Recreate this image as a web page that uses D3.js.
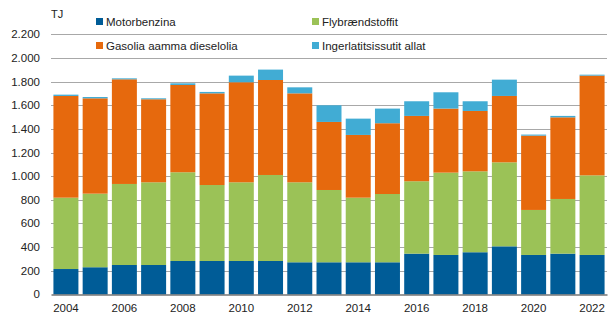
<!DOCTYPE html>
<html>
<head>
<meta charset="utf-8">
<script src="https://cdn.jsdelivr.net/npm/d3@7"></script>
<style>
  html, body { margin: 0; padding: 0; background: #fff; }
  svg { display: block; font-family: "Liberation Sans", Arial, sans-serif; }
</style>
</head>
<body>
<svg id="chart" width="614" height="322"></svg>
<script>
// Energy consumption by fuel type, TJ
const years = ["2004","2005","2006","2007","2008","2009","2010","2011","2012","2013",
               "2014","2015","2016","2017","2018","2019","2020","2021","2022"];
const motorbenzina = [214, 229, 248, 248, 282, 282, 282, 282, 271, 271,
                      271, 271, 344, 333, 356, 406, 333, 344, 333];
const flybraendstoffit = [604, 623, 686, 700, 751, 643, 666, 728, 677, 612,
                          547, 578, 613, 697, 685, 711, 381, 463, 674];
const gasolia = [861, 807, 886, 703, 739, 776, 847, 804, 753, 576,
                 531, 599, 553, 542, 511, 562, 629, 691, 844];
const allat = [11, 11, 8, 8, 14, 12, 56, 88, 51, 141,
               138, 124, 124, 138, 82, 138, 9, 12, 8];
const seriesNames = ["Motorbenzina", "Flybrændstoffit", "Gasolia aamma dieselolia", "Ingerlatitsissutit allat"];
const seriesColors = ["#005c97", "#9bc257", "#e6690d", "#41acd4"];
const yTicks = [0, 200, 400, 600, 800, 1000, 1200, 1400, 1600, 1800, 2000, 2200];
const xTickLabels = ["2004","2006","2008","2010","2012","2014","2016","2018","2020","2022"];

const svg = d3.select("#chart");
const plotLeft = 51, plotRight = 607, plotBottom = 294.3, plotTop = 34.4;

const x = d3.scaleBand().domain(years).range([plotLeft, plotRight])
  .paddingInner(0.145).paddingOuter(0.083);
const y = d3.scaleLinear().domain([0, 2200]).range([plotBottom, plotTop]);

const rows = years.map((yr, i) => ({
  year: yr, s0: motorbenzina[i], s1: flybraendstoffit[i], s2: gasolia[i], s3: allat[i]
}));
const layers = d3.stack().keys(["s0", "s1", "s2", "s3"])(rows);

// gridlines
svg.append("g").selectAll("line").data(yTicks.filter(d => d > 0)).join("line")
  .attr("x1", plotLeft).attr("x2", plotRight)
  .attr("y1", d => Math.round(y(d)) + 0.5).attr("y2", d => Math.round(y(d)) + 0.5)
  .attr("stroke", "#a8a8a8").attr("stroke-width", 1);

// y axis labels
const fmt = d => d3.format(",")(d).replace(/,/g, ".");
svg.append("g").selectAll("text").data(yTicks).join("text")
  .attr("x", 40).attr("y", d => y(d)).attr("dy", "0.35em")
  .attr("text-anchor", "end").attr("font-size", 11.5).attr("fill", "#222")
  .text(fmt);

// stacked bars
svg.append("g").selectAll("g").data(layers).join("g")
  .attr("fill", (d, i) => seriesColors[i])
  .selectAll("rect").data(d => d).join("rect")
  .attr("x", d => x(d.data.year))
  .attr("width", x.bandwidth())
  .attr("y", d => y(d[1]))
  .attr("height", d => y(d[0]) - y(d[1]));

// x axis
const xAxis = d3.axisBottom(x).tickSize(0).tickPadding(9)
  .tickFormat(d => xTickLabels.includes(d) ? d : "");
const gx = svg.append("g").attr("transform", `translate(0,${Math.round(plotBottom) + 0.5})`).call(xAxis);
gx.select(".domain").attr("stroke", "#333").attr("stroke-width", 1.2);
gx.selectAll("text").attr("font-size", 11.5).attr("fill", "#222")
  .attr("font-family", "\"Liberation Sans\", Arial, sans-serif");

// unit label
svg.append("text").attr("x", 51).attr("y", 18).attr("font-size", 11).attr("fill", "#222").text("TJ");

// legend
const legendPos = [[96, 22], [312, 22], [96, 46], [312, 46]];
const lg = svg.append("g").selectAll("g").data(seriesNames).join("g")
  .attr("transform", (d, i) => `translate(${legendPos[i][0]},${legendPos[i][1]})`);
lg.append("rect").attr("x", 0).attr("y", -4).attr("width", 7).attr("height", 7)
  .attr("fill", (d, i) => seriesColors[i]);
lg.append("text").attr("x", 10).attr("y", 0).attr("dy", "0.35em")
  .attr("font-size", 11.5).attr("fill", "#222").text(d => d);
</script>
</body>
</html>
